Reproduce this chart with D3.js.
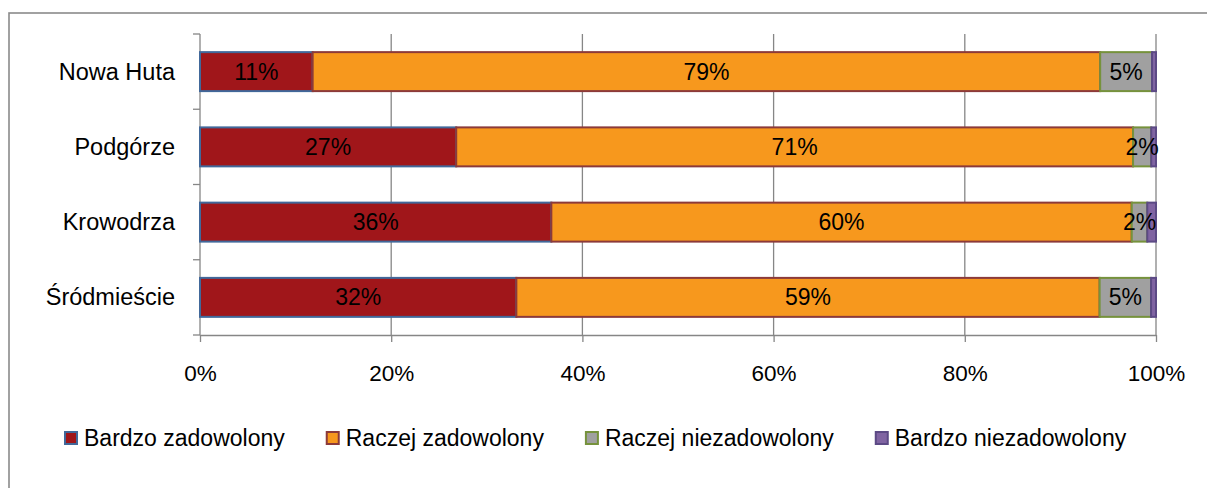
<!DOCTYPE html>
<html>
<head>
<meta charset="utf-8">
<script src="https://cdn.jsdelivr.net/npm/d3@7"></script>
<style>
  html, body { margin: 0; padding: 0; background: #fff; }
  svg { display: block; }
  text { font-family: "Liberation Sans", Arial, sans-serif; fill: #000; }
</style>
</head>
<body>
<svg width="1207" height="488"></svg>
<script>
const districts = ["Nowa Huta", "Podgórze", "Krowodrza", "Śródmieście"]
const seriesNames = ["Bardzo zadowolony", "Raczej zadowolony", "Raczej niezadowolony", "Bardzo niezadowolony"]
// raw shares per district (Excel shows raw values, bars are normalised to 100%)
const veryPleased = [0.113, 0.268, 0.362, 0.32]
const ratherPleased = [0.79, 0.708, 0.598, 0.59]
const ratherDispleased = [0.052, 0.019, 0.016, 0.052]
const veryDispleased = [0.004, 0.005, 0.009, 0.005]
const xTicks = [0, 0.2, 0.4, 0.6, 0.8, 1]

const fills = ["#A0161A", "#F7981D", "#A0A0A0", "#8064A2"]
const borders = ["#41689A", "#8C3A3A", "#76923C", "#5C4A85"]
const GRID = "#868686"

const [PLOT_L, PLOT_R, PLOT_T, PLOT_B] = [200, 1156, 34, 335]

const rows = districts.map((d, i) => ({
  district: d,
  [seriesNames[0]]: veryPleased[i],
  [seriesNames[1]]: ratherPleased[i],
  [seriesNames[2]]: ratherDispleased[i],
  [seriesNames[3]]: veryDispleased[i]
}))

const stacked = d3.stack()
  .keys(seriesNames)
  .offset(d3.stackOffsetExpand)(rows)

const x = d3.scaleLinear().domain([0, 1]).range([PLOT_L, PLOT_R])
const y = d3.scaleBand()
  .domain(districts)
  .range([PLOT_T, PLOT_B])
  .paddingInner(0.482)
  .paddingOuter(0.241)

const svg = d3.select("svg")

// outer chart frame (right and bottom edges fall outside the picture)
svg.append("rect")
  .attr("x", 9).attr("y", 13)
  .attr("width", 1300).attr("height", 600)
  .attr("fill", "none")
  .attr("stroke", "#8a8a8a")
  .attr("stroke-width", 1.6)

// vertical gridlines
svg.append("g")
  .selectAll("line")
  .data(xTicks.slice(1))
  .join("line")
  .attr("x1", (t) => x(t)).attr("x2", (t) => x(t))
  .attr("y1", PLOT_T).attr("y2", PLOT_B)
  .attr("stroke", GRID)
  .attr("stroke-width", 1.3)

// bottom axis
const xAxis = svg.append("g")
  .attr("transform", `translate(0,${PLOT_B})`)
  .call(d3.axisBottom(x).tickValues(xTicks).tickFormat(d3.format(".0%")).tickSize(7).tickSizeOuter(0))
xAxis.select(".domain").attr("stroke", GRID).attr("stroke-width", 1.3)
xAxis.selectAll(".tick line").attr("stroke", GRID).attr("stroke-width", 1.3)
xAxis.selectAll(".tick text")
  .attr("y", 46)
  .attr("dy", null)
  .attr("font-size", 22.5)
  .attr("font-family", "Liberation Sans, Arial, sans-serif")
  .attr("fill", "#000")

// left axis: line with ticks at category boundaries
const boundaries = districts.map((d) => y(d) - y.step() * y.paddingInner() / 2)
boundaries.push(PLOT_B)
const yAxis = svg.append("g")
yAxis.append("line")
  .attr("x1", PLOT_L).attr("x2", PLOT_L)
  .attr("y1", PLOT_T).attr("y2", PLOT_B)
  .attr("stroke", GRID).attr("stroke-width", 1.3)
yAxis.selectAll("line.tick")
  .data(boundaries)
  .join("line")
  .classed("tick", true)
  .attr("x1", PLOT_L - 7).attr("x2", PLOT_L)
  .attr("y1", (b) => b).attr("y2", (b) => b)
  .attr("stroke", GRID).attr("stroke-width", 1.3)
yAxis.selectAll("text")
  .data(districts)
  .join("text")
  .attr("x", 175)
  .attr("y", (d) => y(d) + y.bandwidth() / 2 + 8)
  .attr("text-anchor", "end")
  .attr("font-size", 23.5)
  .text((d) => d)

// stacked segments
const layers = svg.append("g")
  .selectAll("g")
  .data(stacked)
  .join("g")
  .attr("fill", (s, i) => fills[i])
  .attr("stroke", (s, i) => borders[i])
  .attr("stroke-width", 2)

layers.selectAll("rect")
  .data((s) => s)
  .join("rect")
  .attr("x", (p) => x(p[0]))
  .attr("y", (p) => y(p.data.district))
  .attr("width", (p) => x(p[1]) - x(p[0]))
  .attr("height", y.bandwidth())

// data labels (raw values), the tiny last series has none
const labelLayers = svg.append("g")
  .selectAll("g")
  .data(stacked.slice(0, 3))
  .join("g")

labelLayers.selectAll("text")
  .data((s) => s.map((p) => ({ p, key: s.key })))
  .join("text")
  .attr("x", (d) => (x(d.p[0]) + x(d.p[1])) / 2)
  .attr("y", (d) => y(d.p.data.district) + y.bandwidth() / 2 + 8)
  .attr("text-anchor", "middle")
  .attr("font-size", 23)
  .text((d) => d3.format(".0%")(d.p.data[d.key]))

// legend
const legend = svg.append("g").attr("transform", "translate(64,0)")
let cursor = 0
seriesNames.forEach((name, i) => {
  const item = legend.append("g").attr("transform", `translate(${cursor},0)`)
  item.append("rect")
    .attr("x", 1).attr("y", 432)
    .attr("width", 12).attr("height", 12)
    .attr("fill", fills[i])
    .attr("stroke", borders[i])
    .attr("stroke-width", 2)
  const label = item.append("text")
    .attr("x", 20)
    .attr("y", 446)
    .attr("font-size", 23)
    .text(name)
  cursor += 20 + label.node().getComputedTextLength() + 41
})
</script>
</body>
</html>
